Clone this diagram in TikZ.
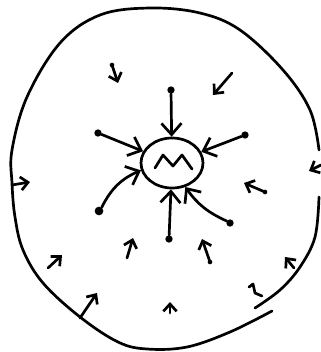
\documentclass[tikz,border=0pt]{standalone}
\usepackage{xcolor}
\usepackage{tikz}
\usetikzlibrary{arrows.meta,shapes.geometric}
\tikzset{
  trazo/.style={line width=2.3pt, line cap=round, line join=round},
  flecha/.style={trazo, -{Straight Barb[length=3.4mm,width=6mm]}},
  flechac/.style={trazo, -{Straight Barb[length=2.2mm,width=4mm]}},
  punto/.style={circle, fill, inner sep=0pt, minimum size=2.2mm},
  puntoc/.style={circle, fill, inner sep=0pt, minimum size=1.4mm},
  celula/.style={ellipse, draw, line width=2.3pt, minimum width=1.86cm,
    minimum height=1.5cm, inner sep=0pt},
}

\begin{document}
\begin{tikzpicture}[x=0.03cm, y=-0.03cm]
  \useasboundingbox (0,0) rectangle (321,352);
  % borde exterior
  \draw[trazo] plot[smooth, tension=0.6] coordinates {(319,150) (310,110) (283,70)
    (240,30) (200,13) (150,8) (100,15) (60,43) (27,97) (12,150) (12,183) (15,217)
    (23,250) (43,283) (80,317) (118,342) (147,349) (187,347) (230,332) (272,311)};
  \draw[trazo] plot[smooth, tension=0.6] coordinates {(319,197) (315,237)
    (300,267) (280,290) (255,308)};
  % celula central
  \node[celula] (m) at (172,163) {};
  \draw[trazo] (155,168) -- (163,155) -- (173,166) -- (182,155) -- (192,169);
  % flechas largas con punto
  \node[punto] (arr) at (171,90) {};
  \node[punto] (izq) at (98,133) {};
  \node[punto] (der) at (245,135) {};
  \node[punto, minimum size=2.6mm] (izqb) at (99,211) {};
  \node[punto] (aba) at (169,239) {};
  \node[punto] (derb) at (230,223) {};
  \draw[flecha] (arr) -- (m);
  \draw[flecha] (izq) -- (m);
  \draw[flecha] (der) -- (m);
  \draw[flecha] (izqb) to[bend left=20] (m);
  \draw[flecha] (aba) -- (m);
  \draw[flecha] (derb) to[bend left=15] (m);
  % flechas cortas
  \foreach \i/\ini/\fin in {1/{112,65}/{118,83}, 2/{232,73}/{213,95},
      3/{265,192}/{244,183}, 4/{321,165}/{309,171}, 5/{127,258}/{133,238},
      6/{210,262}/{202,239}, 7/{12,185}/{30,182}, 8/{48,268}/{62,255},
      9/{80,318}/{97,293}, 10/{170,313}/{170,302}, 11/{294,268}/{285,257}}{
    \coordinate (ini\i) at (\ini);
    \coordinate (fin\i) at (\fin);
    \draw[flechac] (ini\i) -- (fin\i);
  }
  \node[puntoc] (p1) at (ini1) {};
  \node[puntoc] (p3) at (ini3) {};
  \node[puntoc] (p6) at (ini6) {};
  % garabato
  \draw[trazo] (249,287) -- (253,284) -- (255,293) -- (262,296);
\end{tikzpicture}
\end{document}
